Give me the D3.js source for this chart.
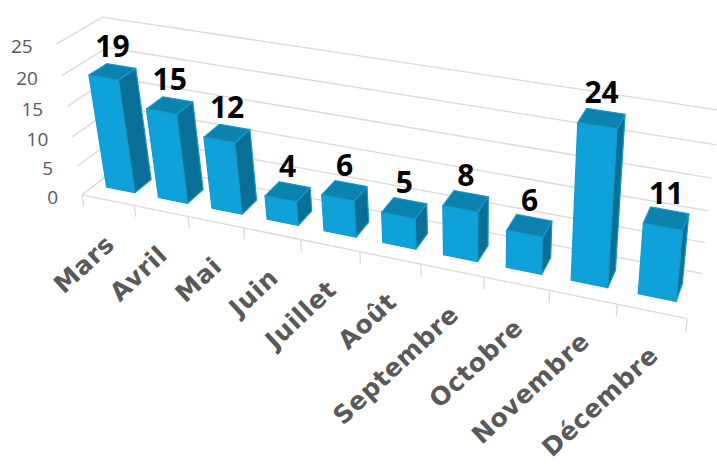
<!DOCTYPE html>
<html><head><meta charset="utf-8">
<script src="https://cdn.jsdelivr.net/npm/d3@7"></script>
<style>body{margin:0;background:#fff}svg{display:block}</style>
</head><body>
<svg id="chart" width="717" height="464"></svg>
<script>
// ---------------- data ----------------
const categories = ["Mars","Avril","Mai","Juin","Juillet","Août","Septembre","Octobre","Novembre","Décembre"];
const values = [19,15,12,4,6,5,8,6,24,11];
const yTicks = [0,5,10,15,20,25];

// ------------- 3D frame calibration (plot-box corners: world [x,y,z] normalised -> screen) -------------
const frameAnchors = [
  [[0,0,0],[82,194]],
  [[1,0,0],[688,319]],
  [[0,1,0],[57,44]],
  [[0,1,1],[102,14]],
  [[1,0,1],[702,272]],
  [[1,1,1],[718,112]],
  [[0,0,1],[125,165]],
  [[0,0.8,0],[63,77]],
  [[0,0.6,0],[67,107]],
  [[0,0.4,0],[72,137]],
  [[0,0.2,0],[77,166]],
  [[0.1,0,0],[134,205]],
  [[0.5,0,0],[358,251]],
  [[0.9,0,0],[618,304]]
];
const barDepth = [0.3, 0.7];

function solveDLT(anchors){
  const S = 100, rows=[], rhs=[];
  for (const [[X,Y,Z],[u0,v0]] of anchors){
    const u=u0/S, v=v0/S;
    rows.push([X,Y,Z,1,0,0,0,0,-u*X,-u*Y,-u*Z]); rhs.push(u);
    rows.push([0,0,0,0,X,Y,Z,1,-v*X,-v*Y,-v*Z]); rhs.push(v);
  }
  const n=11, M=Array.from({length:n},()=>new Array(n+1).fill(0));
  rows.forEach((r,k)=>{ for(let i=0;i<n;i++){ for(let j=0;j<n;j++) M[i][j]+=r[i]*r[j]; M[i][n]+=r[i]*rhs[k]; } });
  for(let c=0;c<n;c++){
    let p=c; for(let r=c+1;r<n;r++) if(Math.abs(M[r][c])>Math.abs(M[p][c])) p=r;
    [M[c],M[p]]=[M[p],M[c]];
    for(let r=0;r<n;r++){ if(r===c) continue; const f=M[r][c]/M[c][c]; for(let k=c;k<=n;k++) M[r][k]-=f*M[c][k]; }
  }
  const s=M.map((row,i)=>row[n]/row[i]);
  return [[s[0]*S,s[1]*S,s[2]*S,s[3]*S],[s[4]*S,s[5]*S,s[6]*S,s[7]*S],[s[8],s[9],s[10],1]];
}
const P = solveDLT(frameAnchors);
function project(x,y,z){
  const w = P[2][0]*x+P[2][1]*y+P[2][2]*z+P[2][3];
  return [(P[0][0]*x+P[0][1]*y+P[0][2]*z+P[0][3])/w,(P[1][0]*x+P[1][1]*y+P[1][2]*z+P[1][3])/w];
}
// camera centre (null space of P)
function cameraCentre(){
  const a=P.map(r=>r.slice(0,3)), b=P.map(r=>-r[3]);
  const det=m=>m[0][0]*(m[1][1]*m[2][2]-m[1][2]*m[2][1])-m[0][1]*(m[1][0]*m[2][2]-m[1][2]*m[2][0])+m[0][2]*(m[1][0]*m[2][1]-m[1][1]*m[2][0]);
  const D=det(a);
  return [0,1,2].map(c=>{ const m=a.map((r,i)=>r.map((v,j)=>j===c?b[i]:v)); return det(m)/D; });
}
const C = cameraCentre();

// ---------------- scales ----------------
const xBand = d3.scaleBand().domain(categories).range([0,1]).paddingInner(0.45).paddingOuter(0.225);
const xEdge = d3.scaleLinear().domain([0,categories.length]).range([0,1]);
const yScale = d3.scaleLinear().domain([0,25]).range([0,1]);

const svg = d3.select("#chart");
const line = d3.line();
const grid = svg.append("g").attr("fill","none").attr("stroke","#d9d9d9").attr("stroke-width",1.3);

// side wall + back wall gridlines
yTicks.forEach(t=>{
  const y=yScale(t);
  grid.append("path").attr("d", line([project(0,y,0),project(0,y,1),project(1,y,1)]));
});
// category axis (front floor edge) + ticks
grid.append("path").attr("d", line([project(0,0,0),project(1,0,0)]));
d3.range(categories.length+1).forEach(i=>{
  const x=xEdge(i);
  grid.append("path").attr("d", line([project(x,0,0),project(x,-0.08,0)]));
});

// y tick labels
svg.append("g").selectAll("text").data(yTicks).join("text")
  .attr("x",d=>project(0,yScale(d),0)[0]-24)
  .attr("y",d=>project(0,yScale(d),0)[1]+2)
  .attr("text-anchor","end").attr("dominant-baseline","central")
  .attr("font-family","'Open Sans', sans-serif").attr("font-size",19).attr("fill","#595959")
  .text(d=>d);

// bars
const colors = {front:"#0fa1d9", side:"#0a6f96", top:"#0c82ae"};
const bars = categories.map((c,i)=>({c, v:values[i], x0:xBand(c), x1:xBand(c)+xBand.bandwidth()}));
bars.sort((a,b)=>Math.abs(C[0]-(b.x0+b.x1)/2)-Math.abs(C[0]-(a.x0+a.x1)/2));
const [z0,z1]=barDepth;
const barG = svg.append("g").attr("stroke","#1a98c9").attr("stroke-width",1.2).attr("stroke-linejoin","round");
bars.forEach(b=>{
  const h=yScale(b.v), {x0,x1}=b;
  const faces=[];
  if(C[2]<z0) faces.push({pts:[[x0,0,z0],[x1,0,z0],[x1,h,z0],[x0,h,z0]],fill:colors.front});
  if(C[0]>x1) faces.push({pts:[[x1,0,z0],[x1,0,z1],[x1,h,z1],[x1,h,z0]],fill:colors.side});
  if(C[0]<x0) faces.push({pts:[[x0,0,z0],[x0,0,z1],[x0,h,z1],[x0,h,z0]],fill:colors.side});
  if(C[1]>h) faces.push({pts:[[x0,h,z0],[x1,h,z0],[x1,h,z1],[x0,h,z1]],fill:colors.top});
  const g=barG.append("g");
  faces.forEach(f=>g.append("path").attr("d",line(f.pts.map(p=>project(...p)))+"Z").attr("fill",f.fill));
});

// value labels
svg.append("g").selectAll("text").data(categories).join("text")
  .attr("x",(c,i)=>project(xBand(c)+xBand.bandwidth()/2,yScale(values[i]),(z0+z1)/2)[0])
  .attr("y",(c,i)=>project(xBand(c)+xBand.bandwidth()/2,yScale(values[i]),(z0+z1)/2)[1]-15)
  .attr("text-anchor","middle")
  .attr("font-family","'Open Sans', sans-serif").attr("font-weight",700).attr("font-size",30).attr("fill","#000")
  .text((c,i)=>values[i]);

// category labels
svg.append("g").selectAll("text").data(categories).join("text")
  .attr("transform",c=>{const p=project(xBand(c)+xBand.bandwidth()/2,0,0); return `translate(${p[0]+8},${p[1]+46}) rotate(-43)`;})
  .attr("text-anchor","end")
  .attr("font-family","'DejaVu Sans', sans-serif").attr("font-weight",700).attr("font-size",25).attr("letter-spacing",0.6).attr("fill","#595959")
  .text(c=>c);
</script>
</body></html>
